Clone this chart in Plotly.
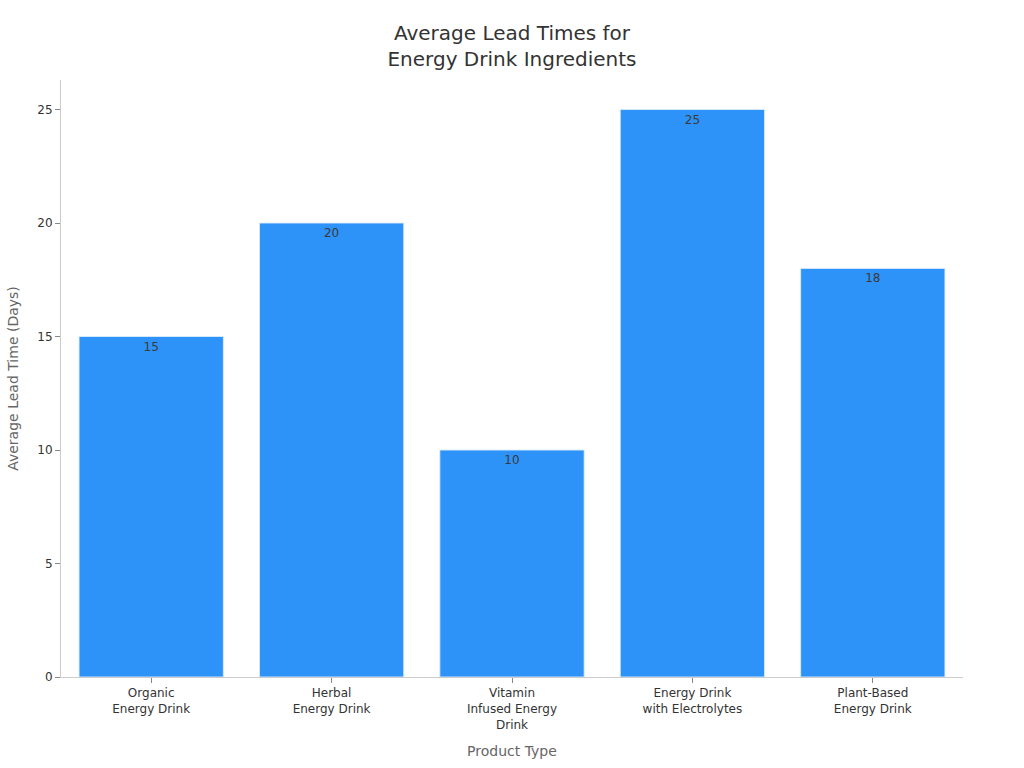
import plotly.graph_objects as go

categories = ["Organic<br>Energy Drink", "Herbal<br>Energy Drink", "Vitamin<br>Infused Energy<br>Drink",
              "Energy Drink<br>with Electrolytes", "Plant-Based<br>Energy Drink"]
lead_times = [15, 20, 10, 25, 18]
y_ticks = [0, 5, 10, 15, 20, 25]

fig = go.Figure(go.Bar(
    x=categories, y=lead_times,
    text=[str(v) for v in lead_times], textposition="inside", insidetextanchor="end",
    textfont=dict(color="#3a3a3a", size=12, family="DejaVu Sans"),
    marker=dict(color="#2E93F8", line=dict(color="rgba(220,235,250,0.9)", width=1)),
))

fig.update_layout(
    width=1024, height=768,
    margin=dict(l=61, r=61, t=80, b=91),
    paper_bgcolor="white", plot_bgcolor="white",
    font=dict(family="DejaVu Sans", color="#333333", size=12),
    title=dict(text="Average Lead Times for<br>Energy Drink Ingredients", x=0.5, xanchor="center",
               y=0.948, yanchor="top", font=dict(size=20, color="#333333")),
    bargap=0.2,
    showlegend=False,
    xaxis=dict(title=dict(text="Product Type", font=dict(size=14, color="#666666"), standoff=15),
               showline=True, linecolor="#cccccc", ticks="outside", tickcolor="#888888", ticklen=5,
               showgrid=False, tickfont=dict(size=12, color="#333333")),
    yaxis=dict(title=dict(text="Average Lead Time (Days)", font=dict(size=14, color="#666666")),
               range=[0, 26.3], tickvals=y_ticks, showline=True, linecolor="#cccccc",
               ticks="outside", tickcolor="#888888", ticklen=5, showgrid=False, zeroline=False,
               tickfont=dict(size=12, color="#333333")),
)

fig.write_html("out.html")
